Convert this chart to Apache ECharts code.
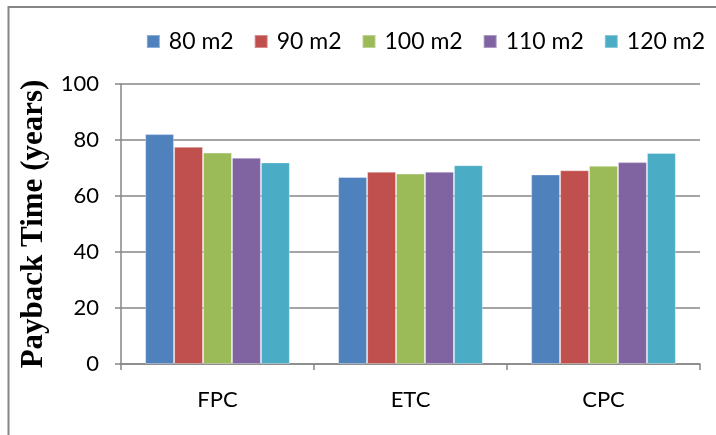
<!DOCTYPE html>
<html>
<head>
<meta charset="utf-8">
<script src="https://cdn.jsdelivr.net/npm/echarts@6/dist/echarts.min.js"></script>
<style>
html,body{margin:0;padding:0;background:#fff;}
#c{width:716px;height:435px;}
</style>
</head>
<body>
<div id="c"></div>
<script>
const categories = ['FPC', 'ETC', 'CPC'];
const seriesNames = ['80 m2', '90 m2', '100 m2', '110 m2', '120 m2'];
const s80 = [82.1, 66.8, 67.7];
const s90 = [77.6, 68.7, 69.2];
const s100 = [75.5, 68.0, 70.8];
const s110 = [73.7, 68.7, 72.1];
const s120 = [72.0, 71.0, 75.4];
const yTicks = [0, 20, 40, 60, 80, 100];
const colors = ['#4F81BD', '#C0504D', '#9BBB59', '#8064A2', '#4BACC6'];
const allData = [s80, s90, s100, s110, s120];

const chart = echarts.init(document.getElementById('c'), null, {renderer: 'canvas'});
const font = 'Lato';
chart.setOption({
  animation: false,
  color: colors,
  graphic: [{
    type: 'rect',
    shape: {x: 8.5, y: 7, width: 760, height: 500},
    style: {fill: 'none', stroke: '#868686', lineWidth: 2},
    silent: true
  }],
  legend: {
    top: 25,
    right: 6,
    itemWidth: 13,
    itemHeight: 13,
    itemGap: 20,
    icon: 'rect',
    textStyle: {fontFamily: font, fontSize: 23, color: '#000', padding: [0, 0, 0, 4]},
    data: seriesNames
  },
  grid: {left: 121, right: 16, top: 84, bottom: 71, containLabel: false},
  xAxis: {
    type: 'category',
    data: categories,
    axisLine: {lineStyle: {color: '#868686', width: 1.5}},
    axisTick: {show: true, length: 6, alignWithLabel: false, lineStyle: {color: '#868686', width: 1.5}},
    axisLabel: {fontFamily: font, fontSize: 22, color: '#000', margin: 25}
  },
  yAxis: {
    type: 'value',
    min: yTicks[0],
    max: yTicks[yTicks.length - 1],
    interval: 20,
    name: 'Payback Time (years)',
    nameLocation: 'middle',
    nameGap: 70,
    nameTextStyle: {fontFamily: 'Liberation Serif', fontWeight: 'bold', fontSize: 31, color: '#000'},
    axisLine: {show: true, lineStyle: {color: '#868686', width: 1.5}},
    axisTick: {show: true, length: 6, lineStyle: {color: '#868686', width: 1.5}},
    splitLine: {lineStyle: {color: '#868686', width: 1.5}},
    axisLabel: {fontFamily: font, fontSize: 22, color: '#000', margin: 22}
  },
  series: seriesNames.map((n, i) => ({
    name: n,
    type: 'bar',
    data: allData[i],
    barGap: '0%',
    barCategoryGap: '25%',
    itemStyle: {borderColor: 'rgba(255,255,255,0.35)', borderWidth: 1}
  }))
});
</script>
</body>
</html>
